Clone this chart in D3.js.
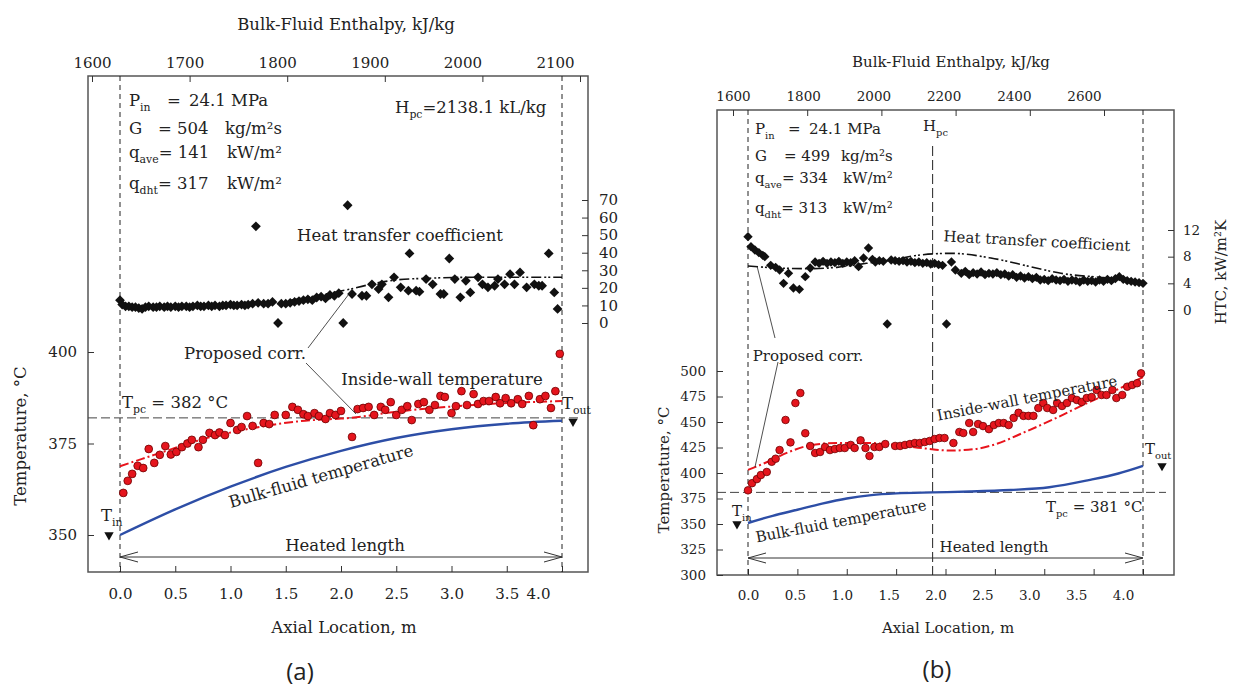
<!DOCTYPE html>
<html>
<head>
<meta charset="utf-8">
<script src="https://cdn.jsdelivr.net/npm/d3@7"></script>
<style>
  body { margin: 0; background: #fff; }
  svg text { font-family: "DejaVu Serif", "Liberation Serif", serif; fill: #222; }
</style>
</head>
<body>
<svg id="chart" width="1233" height="686"></svg>
<script>
// ---- tick values ----
var axialTicks = [0, 0.5, 1, 1.5, 2, 2.5, 3, 3.5, 4];
var enthalpyTicksA = [1600, 1700, 1800, 1900, 2000, 2100];
var enthalpyTicksB = [1600, 1800, 2000, 2200, 2400, 2600];
var tempTicksA = [350, 375, 400];
var tempTicksB = [300, 325, 350, 375, 400, 425, 450, 475, 500];
var htcTicksA = [0, 10, 20, 30, 40, 50, 60, 70];
var htcTicksB = [0, 4, 8, 12];

// ---- run parameters ----
var heatedLength = 4.0;
var hpc = 2138.1;
var tpcA = 382, tpcB = 381;
var tInA = 350, tOutA = 381, tInB = 350, tOutB = 407;

// ---- (a) data: [axial location m, value] ----
var wallA = [[0.03,361.5],[0.07,364.8],[0.11,366.7],[0.16,368.9],[0.21,368.3],[0.26,373.5],[0.31,369.7],
  [0.36,371.9],[0.41,374.3],[0.46,372.0],[0.51,372.7],[0.56,374.0],[0.61,375.0],[0.65,376.0],[0.71,374.0],
  [0.75,376.0],[0.81,377.9],[0.86,377.3],[0.90,378.0],[0.95,377.3],[1.00,380.6],[1.06,378.7],[1.10,379.5],
  [1.15,382.5],[1.20,379.8],[1.25,369.7],[1.30,380.6],[1.35,380.3],[1.40,382.8],[1.50,382.8],[1.56,385.0],
  [1.61,384.2],[1.66,383.0],[1.70,382.5],[1.76,383.3],[1.80,382.5],[1.86,381.7],[1.90,383.3],[1.95,382.8],
  [2.00,383.9],[2.10,376.8],[2.15,384.4],[2.20,384.7],[2.25,385.0],[2.30,382.8],[2.36,385.0],[2.40,384.2],
  [2.45,386.3],[2.50,382.8],[2.55,384.2],[2.60,385.2],[2.64,381.4],[2.70,385.8],[2.75,386.3],[2.80,384.2],
  [2.85,385.5],[2.90,388.0],[2.94,387.7],[3.00,383.3],[3.04,385.2],[3.09,389.3],[3.14,385.5],[3.20,388.5],
  [3.24,385.8],[3.29,386.6],[3.34,386.6],[3.40,387.7],[3.44,386.0],[3.49,387.4],[3.54,386.0],[3.60,387.1],
  [3.64,385.8],[3.70,388.0],[3.74,380.0],[3.80,387.1],[3.85,388.0],[3.90,384.7],[3.94,389.3],[3.98,399.5]];
var wallCorrA = [[0,368.8],[0.2,370.8],[0.4,372.8],[0.6,374.8],[0.8,376.6],[1.0,378.0],[1.2,379.2],[1.4,380.2],
  [1.6,381.0],[1.8,381.5],[2.0,381.8],[2.2,382.4],[2.4,383.3],[2.6,384.0],[2.8,384.6],[3.0,385.1],[3.2,385.5],
  [3.4,385.9],[3.6,386.2],[3.8,386.4],[4.0,386.6]];
var bulkA = [[0,350],[0.5,357],[1.0,363.2],[1.5,368.6],[2.0,373.0],[2.5,376.5],[3.0,378.9],[3.5,380.4],[4.0,381.2]];
var htcA = [[0.00,13],[0.02,10.5],[0.05,9.5],[0.08,9.5],[0.11,9],[0.14,9],[0.17,8.5],[0.20,8],[0.23,9],[0.26,9.5],
  [0.30,9],[0.33,9],[0.36,9.5],[0.40,9],[0.43,9.5],[0.46,9],[0.50,9.5],[0.53,9],[0.56,9.5],[0.60,9.5],[0.63,9],
  [0.66,9.5],[0.70,10],[0.73,9.5],[0.76,9.5],[0.80,10],[0.83,9.5],[0.86,10],[0.90,9.5],[0.93,10],[0.96,10],
  [1.00,10.5],[1.03,10],[1.06,10],[1.10,10.5],[1.13,10],[1.16,10.5],[1.20,11],[1.23,55],[1.25,11.5],[1.30,11],
  [1.34,11],[1.38,12],[1.43,0],[1.46,11],[1.50,11],[1.54,11.5],[1.58,12],[1.62,12.5],[1.66,13],[1.70,13.5],
  [1.74,13],[1.78,14.5],[1.82,15],[1.86,14],[1.90,16],[1.94,15.5],[1.98,17],[2.02,0],[2.06,67],[2.10,16.5],
  [2.19,15.5],[2.23,15.5],[2.28,22],[2.34,19.3],[2.37,22],[2.43,14.6],[2.48,26],[2.54,20.3],[2.61,18.4],
  [2.62,39.6],[2.68,18.4],[2.71,17.8],[2.77,25],[2.83,22],[2.90,16.5],[2.93,16.5],[2.98,36.7],[3.03,25],
  [3.08,14.6],[3.13,24],[3.17,17.4],[3.24,26],[3.28,22],[3.33,20.3],[3.39,21.2],[3.42,25],[3.48,22],[3.53,27.8],
  [3.57,22],[3.62,28.8],[3.68,20.3],[3.75,22],[3.79,21.2],[3.82,21.2],[3.88,39.6],[3.93,17.4],[3.96,8]];
var htcCorrA = [[1.55,13],[1.7,14.5],[1.9,17],[2.1,19.5],[2.3,22.5],[2.5,24.5],[2.8,25.5],[3.2,26],[3.6,26],[4.0,26]];

// ---- (b) data ----
var wallB = [[0.00,383],[0.04,390],[0.09,394],[0.13,398],[0.19,401],[0.24,411],[0.28,414],[0.32,422.5],
  [0.38,452],[0.43,430],[0.48,468.6],[0.53,478.4],[0.58,439],[0.63,426.5],[0.68,419.6],[0.73,420.6],[0.78,425.5],
  [0.83,422.5],[0.88,423.5],[0.93,424.5],[0.98,424.5],[1.04,427.5],[1.08,424.5],[1.14,432],[1.19,424.5],
  [1.23,416.7],[1.28,425.5],[1.33,425.5],[1.39,428.4],[1.49,426.5],[1.54,426.5],[1.59,427.5],[1.64,428.4],
  [1.69,429.4],[1.74,429.4],[1.79,430.4],[1.84,431.4],[1.89,433.3],[1.94,434.3],[1.99,434.3],[2.08,429.4],
  [2.14,440.2],[2.18,439.2],[2.24,449],[2.28,440.2],[2.33,448],[2.38,446],[2.44,443],[2.49,447],[2.54,449],
  [2.59,449],[2.64,447],[2.69,454],[2.74,459],[2.79,456],[2.84,456],[2.89,456],[2.94,463.7],[2.99,468.6],
  [3.03,463.7],[3.09,461.8],[3.13,468.6],[3.18,465.7],[3.23,468.6],[3.28,473.5],[3.33,471.6],[3.38,469.6],
  [3.43,473.5],[3.48,474.5],[3.53,481.4],[3.58,476.5],[3.63,476.5],[3.69,481.4],[3.73,473.5],[3.79,476.5],
  [3.84,484.6],[3.89,486.3],[3.94,488],[3.98,497.7]];
var wallCorrB = [[0,403],[0.2,411],[0.4,420],[0.6,426.5],[0.9,429.5],[1.2,429.5],[1.5,427.5],[1.8,424],[2.05,422],
  [2.3,423.5],[2.5,428],[2.8,440],[3.1,453],[3.4,467],[3.7,480],[4.0,494]];
var bulkB = [[0,351],[0.25,358],[0.5,364],[0.75,370],[1.0,375],[1.25,378.3],[1.5,380],[1.87,381],[2.25,381.8],
  [2.66,383.3],[3.05,386],[3.45,393],[3.75,399.5],[4.0,407]];
var htcB = [[0.00,11.0],[0.03,9.5],[0.07,9.0],[0.11,8.6],[0.15,8.2],[0.17,8.0],[0.23,6.7],[0.28,6.4],[0.32,6.0],
  [0.36,4.0],[0.41,5.5],[0.46,3.3],[0.52,3.1],[0.58,5.0],[0.63,6.3],[0.68,7.2],[0.72,7.0],[0.76,7.3],[0.80,7.0],
  [0.84,7.2],[0.88,7.1],[0.92,7.3],[0.96,7.0],[1.00,7.2],[1.04,7.1],[1.08,7.4],[1.12,6.5],[1.17,7.8],[1.22,9.3],
  [1.26,7.6],[1.29,7.2],[1.33,7.4],[1.37,7.3],[1.41,-2.1],[1.45,7.5],[1.49,7.4],[1.53,7.3],[1.57,7.4],[1.61,7.2],
  [1.65,7.3],[1.69,7.1],[1.73,7.2],[1.77,7.0],[1.81,7.1],[1.85,6.9],[1.89,7.0],[1.93,6.8],[1.97,6.7],[2.01,-2.1],
  [2.06,7.2],[2.10,6.0],[2.16,5.5],[2.20,5.8],[2.24,5.3],[2.28,5.6],[2.32,5.4],[2.36,5.7],[2.40,5.3],[2.44,5.5],
  [2.48,5.4],[2.52,5.6],[2.56,5.3],[2.60,5.4],[2.64,5.1],[2.68,5.3],[2.72,4.9],[2.76,5.1],[2.80,4.8],[2.84,5.0],
  [2.88,4.7],[2.92,4.9],[2.96,4.5],[3.00,4.6],[3.04,4.4],[3.08,4.7],[3.12,4.5],[3.16,4.4],[3.20,4.6],[3.24,4.3],
  [3.28,4.5],[3.32,4.4],[3.36,4.2],[3.40,4.5],[3.44,4.3],[3.48,4.4],[3.52,4.2],[3.56,4.5],[3.60,4.3],[3.64,4.6],
  [3.68,4.4],[3.72,4.7],[3.76,5.0],[3.80,4.6],[3.84,4.4],[3.88,4.3],[3.92,4.2],[3.96,4.1],[4.00,4.0]];
var htcCorrB = [[0,6.6],[0.3,6.3],[0.6,6.2],[0.9,6.4],[1.2,7.0],[1.5,7.6],[1.71,8.2],[2.06,8.5],[2.46,7.8],
  [2.86,6.5],[3.17,5.5],[3.65,4.8],[4.0,4.2]];

var svg = d3.select("#chart");

// text with subscript pieces
function rich(g, x, y, parts, size, anchor) {
  var t = g.append("text").attr("x", x).attr("y", y)
    .style("font-size", size + "px").attr("text-anchor", anchor || "start");
  var shift = 0;
  parts.forEach(function(p) {
    var target = p[1] == "sub" ? size * 0.32 : 0;
    t.append("tspan").attr("dy", target - shift)
      .style("font-size", p[1] ? (size * 0.66) + "px" : null)
      .text(p[0]);
    shift = target;
  });
  return t;
}

function drawPanel(p) {
  var g = svg.append("g");
  var x = p.x, t = p.t, h = p.h, e = p.e;

  g.append("rect")
    .attr("x", p.L).attr("y", p.T)
    .attr("width", p.R - p.L).attr("height", p.B - p.T)
    .attr("fill", "none").attr("stroke", "#555").attr("stroke-width", 1.5);

  // axes
  var top = g.append("g").attr("transform", "translate(0," + p.T + ")")
    .call(d3.axisTop(e).tickValues(p.eTicks).tickSize(-6).tickPadding(p.topPad).tickFormat(d3.format("d")));
  top.selectAll("text").attr("dx", function(d, i) { return -p.topShift * i; });
  var bottom = g.append("g").attr("transform", "translate(0," + p.B + ")")
    .call(d3.axisBottom(x).tickValues(axialTicks).tickSize(-6).tickPadding(p.botPad).tickFormat(d3.format(".1f")));
  bottom.selectAll("text").attr("dx", p.botShift);
  g.append("g").attr("transform", "translate(" + p.L + ",0)")
    .call(d3.axisLeft(t).tickValues(p.tTicks).tickSize(-6).tickPadding(11));
  g.append("g").attr("transform", "translate(" + p.R + ",0)")
    .call(d3.axisRight(h).tickValues(p.hTicks).tickSize(-6).tickPadding(p.rightPad));
  g.selectAll(".domain").remove();
  g.selectAll(".tick line").attr("stroke", "#333");
  g.selectAll(".tick text").attr("font-family", null).style("font-size", p.tickSize + "px").attr("fill", "#222");
  g.selectAll("g").attr("font-size", null).attr("font-family", null);

  // reference lines
  [0, heatedLength].forEach(function(v) {
    g.append("line").attr("x1", x(v)).attr("x2", x(v)).attr("y1", p.T).attr("y2", p.B)
      .attr("stroke", "#222").attr("stroke-width", 1).attr("stroke-dasharray", "5,4");
  });
  if (e(hpc) < p.R) {
    g.append("line").attr("x1", e(hpc)).attr("x2", e(hpc)).attr("y1", p.T + 36).attr("y2", p.B)
      .attr("stroke", "#222").attr("stroke-width", 1).attr("stroke-dasharray", "10,4");
  }
  g.append("line").attr("x1", p.L).attr("x2", p.tpcEnd).attr("y1", t(p.tpc)).attr("y2", t(p.tpc))
    .attr("stroke", "#444").attr("stroke-width", 1).attr("stroke-dasharray", "9,4");

  // heated length arrow
  var x0 = x(0), x1 = x(heatedLength), ay = p.arrowY;
  g.append("line").attr("x1", x0).attr("x2", x1).attr("y1", ay).attr("y2", ay).attr("stroke", "#333");
  g.append("path").attr("fill", "none").attr("stroke", "#333")
    .attr("d", "M" + (x0 + 18) + "," + (ay - 5) + "L" + x0 + "," + ay + "L" + (x0 + 18) + "," + (ay + 5) +
      "M" + (x1 - 18) + "," + (ay - 5) + "L" + x1 + "," + ay + "L" + (x1 - 18) + "," + (ay + 5));

  var lineT = d3.line().x(function(d) { return x(d[0]); }).y(function(d) { return t(d[1]); }).curve(d3.curveMonotoneX);
  var lineH = d3.line().x(function(d) { return x(d[0]); }).y(function(d) { return h(d[1]); }).curve(d3.curveMonotoneX);

  g.append("path").attr("d", lineT(p.bulk)).attr("fill", "none").attr("stroke", "#2d4ea6").attr("stroke-width", 2.4);
  g.append("path").attr("d", lineT(p.wallCorr)).attr("fill", "none").attr("stroke", "#e8141c")
    .attr("stroke-width", 2).attr("stroke-dasharray", "9,3,2,3");
  g.append("path").attr("d", lineH(p.htcCorr)).attr("fill", "none").attr("stroke", "#111")
    .attr("stroke-width", 1.6).attr("stroke-dasharray", "10,3,2,2,2,3");

  var diamond = d3.symbol(d3.symbolSquare, p.diamond);
  g.append("g").selectAll("path").data(p.htc).enter().append("path")
    .attr("d", diamond)
    .attr("transform", function(d) { return "translate(" + x(d[0]) + "," + h(d[1]) + ")rotate(45)"; })
    .attr("fill", "#111");

  g.append("g").selectAll("circle").data(p.wall).enter().append("circle")
    .attr("cx", function(d) { return x(d[0]); })
    .attr("cy", function(d) { return t(d[1]); })
    .attr("r", p.dot)
    .attr("fill", "#e5151d").attr("stroke", "#6d0000").attr("stroke-width", 0.8);

  // inlet / outlet temperature markers
  var tri = d3.symbol(d3.symbolTriangle, 38);
  [[p.tInX, p.tIn], [p.tOutX, p.tOut]].forEach(function(m) {
    g.append("path").attr("d", tri)
      .attr("transform", "translate(" + m[0] + "," + t(m[1]) + ")rotate(180)").attr("fill", "#111");
  });

  // axis titles
  g.append("text").attr("x", p.topTitle[0]).attr("y", p.topTitle[1]).attr("text-anchor", "middle")
    .style("font-size", p.titleSize + "px").text("Bulk-Fluid Enthalpy, kJ/kg");
  g.append("text").attr("x", p.botTitle[0]).attr("y", p.botTitle[1]).attr("text-anchor", "middle")
    .style("font-size", p.titleSize + "px").text("Axial Location, m");
  g.append("text").attr("transform", "translate(" + p.yTitle[0] + "," + p.yTitle[1] + ")rotate(-90)")
    .attr("text-anchor", "middle").style("font-size", p.titleSize + "px").text("Temperature, °C");
  g.append("text").attr("x", p.tag[0]).attr("y", p.tag[1]).attr("text-anchor", "middle")
    .style("font-family", "'Open Sans', sans-serif").style("font-size", "24px").text(p.tagText);

  return g;
}

function label(g, x, y, txt, size, rot) {
  g.append("text").attr("transform", "translate(" + x + "," + y + ")rotate(" + (rot || 0) + ")")
    .attr("text-anchor", "middle").attr("dy", "0.35em").style("font-size", size + "px").text(txt);
}
function leader(g, a, b) {
  g.append("line").attr("x1", a[0]).attr("y1", a[1]).attr("x2", b[0]).attr("y2", b[1])
    .attr("stroke", "#222").attr("stroke-width", 0.8);
}

// ---- panel (a) ----
var gA = drawPanel({
  L: 88, R: 588, T: 76, B: 572,
  x: d3.scaleLinear([0, 4], [120, 562]),
  t: d3.scaleLinear([350, 400], [535, 352]),
  h: d3.scaleLinear([0, 70], [323, 200]),
  e: d3.scaleLinear([1600, 2100], [92, 580]),
  eTicks: enthalpyTicksA, tTicks: tempTicksA, hTicks: htcTicksA,
  topPad: 8, topShift: 5, botPad: 16, botShift: function(d) { return d == 4 ? -24 : 0; }, rightPad: 11,
  tickSize: 15, titleSize: 16.5,
  tpc: tpcA, tpcEnd: 582, arrowY: 557,
  bulk: bulkA, wallCorr: wallCorrA, htcCorr: htcCorrA, htc: htcA, wall: wallA,
  diamond: 48, dot: 3.9,
  tIn: tInA, tInX: 109, tOut: tOutA, tOutX: 573,
  topTitle: [346, 30], botTitle: [344, 633], yTitle: [26, 436], tag: [300, 680], tagText: "(a)"
});

var sA = 16.5;
rich(gA, 129, 106, [["P"], ["in", "sub"]], sA);
rich(gA, 167, 106, [["="]], sA);
rich(gA, 189, 106, [["24.1 MPa"]], sA);
rich(gA, 129, 134, [["G"]], sA);
rich(gA, 158, 134, [["= 504"]], sA);
rich(gA, 225, 134, [["kg/m²s"]], sA);
rich(gA, 129, 158, [["q"], ["ave", "sub"], ["= 141"]], sA);
rich(gA, 227, 158, [["kW/m²"]], sA);
rich(gA, 129, 189, [["q"], ["dht", "sub"], ["= 317"]], sA);
rich(gA, 227, 189, [["kW/m²"]], sA);
rich(gA, 395, 113, [["H"], ["pc", "sub"], ["=2138.1 kL/kg"]], sA);
rich(gA, 122, 408, [["T"], ["pc", "sub"], [" = 382 °C"]], sA);
rich(gA, 562, 409, [["T"], ["out", "sub"]], sA);
rich(gA, 101, 521, [["T"], ["in", "sub"]], sA);
label(gA, 400, 235, "Heat transfer coefficient", sA);
label(gA, 442, 379, "Inside-wall temperature", sA);
label(gA, 245, 353, "Proposed corr.", sA);
label(gA, 345, 545, "Heated length", sA);
label(gA, 321, 476, "Bulk-fluid temperature", sA, -16);
leader(gA, [308, 348], [352, 290]);
leader(gA, [306, 363], [356, 414]);

// ---- panel (b) ----
var gB = drawPanel({
  L: 717, R: 1174, T: 110, B: 575,
  x: d3.scaleLinear([0, 4], [748, 1143]),
  t: d3.scaleLinear([300, 500], [575, 371]),
  h: d3.scaleLinear([0, 12], [310, 230]),
  e: d3.scaleLinear([1600, 2600], [733, 1104]),
  eTicks: enthalpyTicksB, tTicks: tempTicksB, hTicks: htcTicksB,
  topPad: 9, topShift: 4, botPad: 15, botShift: function(d, i) { return -2.5 * i; }, rightPad: 9,
  tickSize: 13.5, titleSize: 15,
  tpc: tpcB, tpcEnd: 1166, arrowY: 558,
  bulk: bulkB, wallCorr: wallCorrB, htcCorr: htcCorrB, htc: htcB, wall: wallB,
  diamond: 44, dot: 3.8,
  tIn: tInB, tInX: 737, tOut: tOutB, tOutX: 1162,
  topTitle: [951, 67], botTitle: [948, 633], yTitle: [669, 470], tag: [937, 678], tagText: "(b)"
});

var sB = 15;
rich(gB, 755, 134, [["P"], ["in", "sub"]], sB);
rich(gB, 788, 134, [["="]], sB);
rich(gB, 809, 134, [["24.1 MPa"]], sB);
rich(gB, 755, 161, [["G"]], sB);
rich(gB, 784, 161, [["= 499"]], sB);
rich(gB, 841, 161, [["kg/m²s"]], sB);
rich(gB, 755, 183, [["q"], ["ave", "sub"], ["= 334"]], sB);
rich(gB, 843, 183, [["kW/m²"]], sB);
rich(gB, 755, 213, [["q"], ["dht", "sub"], ["= 313"]], sB);
rich(gB, 843, 213, [["kW/m²"]], sB);
rich(gB, 923, 131, [["H"], ["pc", "sub"]], sB);
rich(gB, 1046, 512, [["T"], ["pc", "sub"], [" = 381 °C"]], sB);
rich(gB, 1145, 454, [["T"], ["out", "sub"]], sB);
rich(gB, 732, 516, [["T"], ["in", "sub"]], sB);
label(gB, 1037, 241, "Heat transfer coefficient", sB, 3);
label(gB, 1027, 398, "Inside-wall temperature", sB, -11);
label(gB, 808, 356, "Proposed corr.", sB);
label(gB, 994, 547, "Heated length", sB);
label(gB, 841, 521, "Bulk-fluid temperature", sB, -10.8);
leader(gB, [775, 338], [757, 266]);
leader(gB, [778, 362], [755, 467]);
gB.append("text").attr("transform", "translate(1226,272)rotate(-90)").attr("text-anchor", "middle")
  .style("font-size", "15px").text("HTC, kW/m²K");
</script>
</body>
</html>
